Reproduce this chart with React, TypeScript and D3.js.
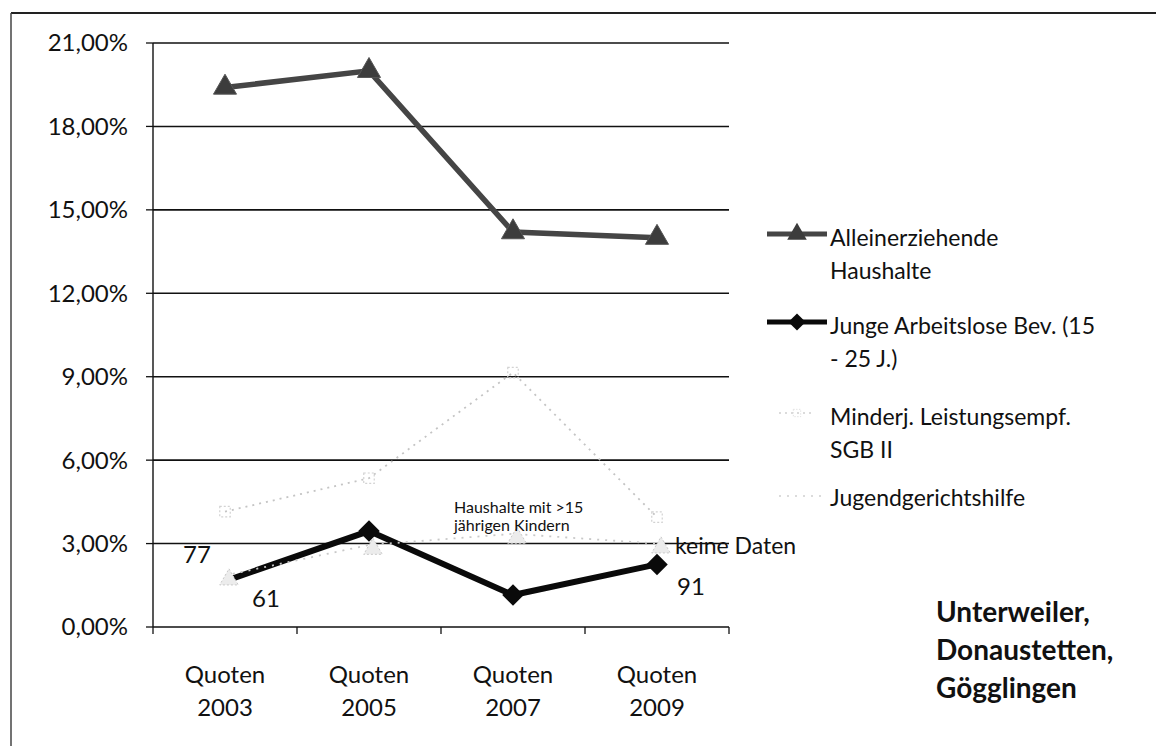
import React from "react";
import * as d3 from "d3";

const categories = ["Quoten 2003", "Quoten 2005", "Quoten 2007", "Quoten 2009"];
const yTicks = [0, 3, 6, 9, 12, 15, 18, 21];

const alleinerziehende = [19.4, 20.0, 14.2, 14.0];
const jungeArbeitslose = [1.65, 3.45, 1.15, 2.25];
const minderjLeistung = [4.15, 5.35, 9.15, 3.95];
const jugendgerichtshilfe = [1.85, 2.95, 3.35, 3.0];

const seriesNames = [
  ["Alleinerziehende", "Haushalte"],
  ["Junge Arbeitslose Bev. (15", "- 25 J.)"],
  ["Minderj. Leistungsempf.", "SGB II"],
  ["Jugendgerichtshilfe"],
];

const regionTitle = ["Unterweiler,", "Donaustetten,", "Gögglingen"];
const labelJugend2003 = "77";
const labelJunge2003 = "61";
const labelJunge2009 = "91";
const labelJugend2007 = ["Haushalte mit >15", "jährigen Kindern"];
const labelJugend2009 = "keine Daten";

const FONT = "Lato, 'Open Sans', sans-serif";

export default function App() {
  const W = 1156;
  const H = 746;
  const x0 = 153;
  const x1 = 729;
  const yTop = 43;
  const yBot = 627;

  const x = d3.scaleBand<string>().domain(categories).range([x0, x1]);
  const cx = (i: number) => (x(categories[i]) as number) + x.bandwidth() / 2;
  const y = d3.scaleLinear().domain([0, 21]).range([yBot, yTop]);
  const fmt = (v: number) => d3.format(".2f")(v).replace(".", ",") + "%";

  const line = d3
    .line<number>()
    .x((_, i) => cx(i))
    .y((d) => y(d));

  const tri = d3.symbol().type(d3.symbolTriangle).size(230)() as string;
  const dia = d3.symbol().type(d3.symbolSquare).size(230)() as string;
  const smallSq = d3.symbol().type(d3.symbolSquare).size(110)() as string;
  const smallTri = d3.symbol().type(d3.symbolTriangle).size(150)() as string;

  const legendX = 767;
  const legendTextX = 830;
  const legendY = [238, 326, 417, 498];
  const lh = 33;

  return (
    <svg width={W} height={H} style={{ display: "block", position: "absolute", left: 0, top: 0 }}>
      <rect x={0} y={0} width={W} height={H} fill="#fff" />
      {/* outer frame */}
      <line x1={11} y1={13} x2={W} y2={13} stroke="#222" strokeWidth={2} />
      <line x1={11} y1={13} x2={11} y2={H} stroke="#444" strokeWidth={1.5} />

      {/* gridlines */}
      {yTicks.map((t) => (
        <g key={t}>
          {t > 0 && <line x1={x0} x2={x1} y1={y(t)} y2={y(t)} stroke="#111" strokeWidth={1.6} />}
          <line x1={x0 - 7} x2={x0} y1={y(t)} y2={y(t)} stroke="#111" strokeWidth={1.3} />
          <text
            x={128}
            y={y(t)}
            dy="0.35em"
            textAnchor="end"
            fontFamily={FONT}
            fontSize={24}
            fill="#111"
          >
            {fmt(t)}
          </text>
        </g>
      ))}
      {/* axes */}
      <line x1={x0} x2={x0} y1={yTop} y2={yBot} stroke="#111" strokeWidth={1.4} />
      <line x1={x0} x2={x1} y1={yBot} y2={yBot} stroke="#111" strokeWidth={1.6} />
      {d3.range(categories.length + 1).map((i) => {
        const xx = i < categories.length ? (x(categories[i]) as number) : x1;
        return <line key={i} x1={xx} x2={xx} y1={yBot} y2={yBot + 7} stroke="#111" strokeWidth={1.3} />;
      })}
      {categories.map((c, i) => {
        const parts = c.split(" ");
        return (
          <text key={c} x={cx(i)} textAnchor="middle" fontFamily={FONT} fontSize={24} fill="#111">
            <tspan x={cx(i)} y={683}>{parts[0]}</tspan>
            <tspan x={cx(i)} y={716}>{parts[1]}</tspan>
          </text>
        );
      })}

      {/* light series: Minderj. */}
      <path
        d={line(minderjLeistung) as string}
        fill="none"
        stroke="#c4c4c4"
        strokeWidth={1.8}
        strokeDasharray="2 5"
      />
      {minderjLeistung.map((v, i) => (
        <path key={i} d={smallSq} transform={`translate(${cx(i)},${y(v)})`} fill="none" stroke="#d2d2d2" strokeWidth={1.2} strokeDasharray="2 2" />
      ))}

      {/* Junge Arbeitslose */}
      <path d={line(jungeArbeitslose) as string} fill="none" stroke="#0a0a0a" strokeWidth={6} />
      {jungeArbeitslose.map((v, i) =>
        i === 0 ? null : (
          <path key={i} d={dia} transform={`translate(${cx(i)},${y(v)}) rotate(45)`} fill="#0a0a0a" />
        )
      )}

      {/* light series: Jugendgerichtshilfe */}
      <path
        d={line(jugendgerichtshilfe) as string}
        fill="none"
        stroke="#c8c8c8"
        strokeWidth={1.8}
        strokeDasharray="2 6"
      />
      {jugendgerichtshilfe.map((v, i) => (
        <path key={i} d={smallTri} transform={`translate(${cx(i) + (i === 0 ? 4 : 4)},${y(v) + 4})`} fill="#ececec" stroke="#c9c9c9" strokeWidth={1} strokeDasharray="2 2" />
      ))}

      {/* Alleinerziehende */}
      <path d={line(alleinerziehende) as string} fill="none" stroke="#454545" strokeWidth={5.5} />
      {alleinerziehende.map((v, i) => (
        <path key={i} d={tri} transform={`translate(${cx(i)},${y(v)})`} fill="#3c3c3c" stroke="#555" strokeWidth={1} />
      ))}

      {/* data labels */}
      <text x={cx(0) - 42} y={y(jugendgerichtshilfe[0]) - 21} dy="0.35em" fontFamily={FONT} fontSize={24} fill="#111">
        {labelJugend2003}
      </text>
      <text x={cx(0) + 27} y={y(jungeArbeitslose[0]) + 17} dy="0.35em" fontFamily={FONT} fontSize={24} fill="#111">
        {labelJunge2003}
      </text>
      <text x={cx(3) + 20} y={y(jungeArbeitslose[3]) + 22} dy="0.35em" fontFamily={FONT} fontSize={24} fill="#111">
        {labelJunge2009}
      </text>
      <text x={cx(3) + 18} y={y(jugendgerichtshilfe[3]) + 2} dy="0.35em" fontFamily={FONT} fontSize={23} fill="#111">
        {labelJugend2009}
      </text>
      <text fontFamily={FONT} fontSize={16} fill="#111">
        {labelJugend2007.map((t, k) => (
          <tspan key={k} x={cx(2) - 59} y={y(jugendgerichtshilfe[2]) - 26 + k * 18} dy="0.35em">
            {t}
          </tspan>
        ))}
      </text>

      {/* legend */}
      {seriesNames.map((lines, k) => {
        const ly = legendY[k];
        const mx = (legendX + 827) / 2;
        return (
          <g key={k}>
            {k === 0 && (
              <>
                <line x1={legendX} x2={827} y1={ly - 4} y2={ly - 4} stroke="#454545" strokeWidth={5} />
                <path d={tri} transform={`translate(${mx},${ly - 4}) scale(0.85)`} fill="#3c3c3c" />
              </>
            )}
            {k === 1 && (
              <>
                <line x1={legendX} x2={827} y1={ly - 4} y2={ly - 4} stroke="#0a0a0a" strokeWidth={5} />
                <path d={dia} transform={`translate(${mx},${ly - 4}) rotate(45) scale(0.8)`} fill="#0a0a0a" />
              </>
            )}
            {k === 2 && (
              <>
                <line x1={legendX + 12} x2={815} y1={ly - 4} y2={ly - 4} stroke="#cfcfcf" strokeWidth={1.5} strokeDasharray="2 4" />
                <path d={smallSq} transform={`translate(${mx},${ly - 4}) scale(0.7)`} fill="none" stroke="#d6d6d6" strokeDasharray="2 2" />
              </>
            )}
            {k === 3 && (
              <>
                <line x1={legendX + 12} x2={827} y1={ly - 2} y2={ly - 2} stroke="#d0d0d0" strokeWidth={1.5} strokeDasharray="2 6" />
              </>
            )}
            <text fontFamily={FONT} fontSize={23} fill="#111">
              {lines.map((t, j) => (
                <tspan key={j} x={legendTextX} y={ly + j * lh} dy="0.35em">
                  {t}
                </tspan>
              ))}
            </text>
          </g>
        );
      })}

      {/* region title */}
      <text fontFamily={FONT} fontSize={28} fontWeight="bold" fill="#111">
        {regionTitle.map((t, j) => (
          <tspan key={j} x={936} y={612 + j * 38} dy="0.35em">
            {t}
          </tspan>
        ))}
      </text>
    </svg>
  );
}
